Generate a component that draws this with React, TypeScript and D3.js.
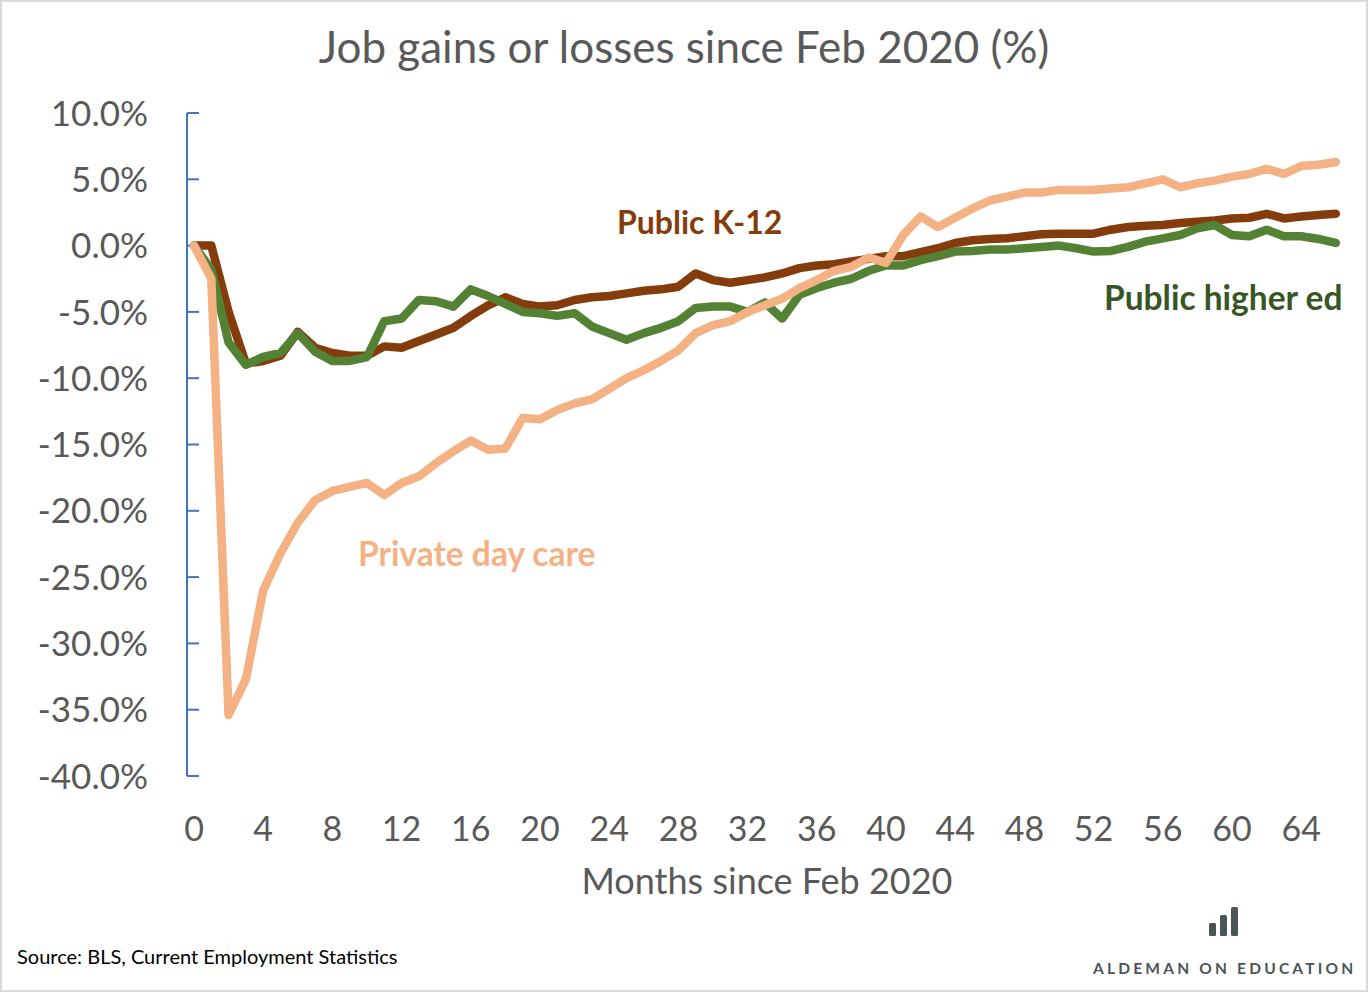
import React from "react";
import * as d3 from "d3";

// % change in jobs since Feb 2020, month 0..66
const k12 = [
  0, 0, -5.0, -8.9, -8.7, -8.3, -6.5, -7.7, -8.1, -8.3, -8.3, -7.6, -7.7, -7.2, -6.7, -6.2,
  -5.3, -4.5, -3.9, -4.4, -4.6, -4.5, -4.1, -3.9, -3.8, -3.6, -3.4, -3.3, -3.1, -2.1, -2.6, -2.8,
  -2.6, -2.4, -2.1, -1.7, -1.5, -1.4, -1.2, -1.0, -0.8, -0.8, -0.5, -0.2, 0.2, 0.4, 0.5, 0.55,
  0.7, 0.85, 0.9, 0.9, 0.9, 1.2, 1.4, 1.5, 1.55, 1.7, 1.8, 1.9, 2.05, 2.1, 2.4, 2.05, 2.2, 2.3, 2.4,
];
const higherEd = [
  0, -1.8, -7.3, -9.0, -8.4, -8.1, -6.6, -8.0, -8.7, -8.7, -8.4, -5.7, -5.5, -4.1, -4.2, -4.6,
  -3.3, -3.8, -4.4, -5.0, -5.1, -5.3, -5.1, -6.1, -6.6, -7.1, -6.6, -6.2, -5.7, -4.7, -4.6, -4.6,
  -5.0, -4.3, -5.5, -3.7, -3.2, -2.8, -2.5, -1.9, -1.5, -1.5, -1.1, -0.8, -0.45, -0.4, -0.3, -0.3,
  -0.2, -0.1, 0.0, -0.2, -0.45, -0.4, -0.1, 0.3, 0.55, 0.8, 1.3, 1.55, 0.8, 0.7, 1.2, 0.7, 0.7, 0.5, 0.2,
];
const dayCare = [
  0, -2.5, -35.4, -32.7, -26.0, -23.2, -20.9, -19.2, -18.5, -18.2, -17.9, -18.8, -17.9, -17.4, -16.4, -15.5,
  -14.7, -15.4, -15.3, -13.0, -13.1, -12.4, -11.9, -11.6, -10.8, -10.0, -9.4, -8.7, -7.9, -6.6, -6.0, -5.7,
  -5.0, -4.5, -4.0, -3.2, -2.6, -1.9, -1.6, -0.9, -1.3, 0.8, 2.2, 1.4, 2.1, 2.8, 3.4, 3.7,
  4.0, 4.0, 4.2, 4.2, 4.2, 4.3, 4.4, 4.7, 5.0, 4.4, 4.7, 4.9, 5.2, 5.4, 5.8, 5.4, 6.0, 6.1, 6.3,
];
const yTicks = [10, 5, 0, -5, -10, -15, -20, -25, -30, -35, -40];
const xTicks = d3.range(0, 65, 4);

const W = 1372;
const H = 994;
const font = "Lato, 'Open Sans', sans-serif";
const grey = "#595959";

const series = [
  { name: "Public K-12", values: k12, color: "#843C0C" },
  { name: "Public higher ed", values: higherEd, color: "#548235" },
  { name: "Private day care", values: dayCare, color: "#F4B183" },
];

export default function App() {
  const x = d3.scaleLinear([0, 64], [194, 1301.2]);
  const y = d3.scaleLinear([-40, 10], [776, 113]);
  const line = d3
    .line<number>()
    .x((_, i) => x(i))
    .y((d) => y(d));
  const axisX = 187;

  return (
    <svg
      width={W}
      height={H}
      style={{ position: "absolute", left: 0, top: 0, background: "#fff" }}
      fontFamily={font}
    >
      <rect x={1} y={1} width={W - 6} height={H - 4} fill="#fff" stroke="#d9d9d9" strokeWidth={2} />

      <text x={684} y={63} textAnchor="middle" fontSize={44} fill={grey}>
        Job gains or losses since Feb 2020 (%)
      </text>

      {/* y axis */}
      <line x1={axisX} x2={axisX} y1={y(10)} y2={y(-40)} stroke="#4472C4" strokeWidth={2} />
      {yTicks.map((t) => (
        <g key={t}>
          <line x1={axisX} x2={axisX + 12} y1={y(t)} y2={y(t)} stroke="#4472C4" strokeWidth={2} />
          <text x={148} y={y(t)} dy="0.36em" textAnchor="end" fontSize={35} fill={grey}>
            {t.toFixed(1) + "%"}
          </text>
        </g>
      ))}

      {/* x axis labels */}
      {xTicks.map((t) => (
        <text key={t} x={x(t)} y={841} textAnchor="middle" fontSize={34} fill={grey}>
          {t}
        </text>
      ))}
      <text x={767} y={894} textAnchor="middle" fontSize={36} fill={grey}>
        Months since Feb 2020
      </text>

      {series.map((s) => (
        <path
          key={s.name}
          d={line(s.values) ?? ""}
          fill="none"
          stroke={s.color}
          strokeWidth={8.5}
          strokeLinejoin="round"
          strokeLinecap="round"
        />
      ))}

      <text x={617} y={234} fontSize={32} fontWeight="bold" fill="#843C0C">
        Public K-12
      </text>
      <text x={1104} y={310} fontSize={33.5} fontWeight="bold" fill="#375623">
        Public higher ed
      </text>
      <text x={358} y={566} fontSize={33.5} fontWeight="bold" fill="#F4B183">
        Private day care
      </text>

      <text x={17} y={964} fontSize={20} fill="#000">
        Source: BLS, Current Employment Statistics
      </text>

      {/* logo */}
      <g fill="#4B5558">
        <rect x={1209} y={923} width={7} height={13} rx={1.5} />
        <rect x={1220} y={915} width={7} height={21} rx={1.5} />
        <rect x={1231} y={907} width={7} height={29} rx={1.5} />
      </g>
      <text x={1093} y={974} fontSize={15.5} fontWeight="bold" letterSpacing={3.2} fill="#4B5558">
        ALDEMAN ON EDUCATION
      </text>
    </svg>
  );
}
